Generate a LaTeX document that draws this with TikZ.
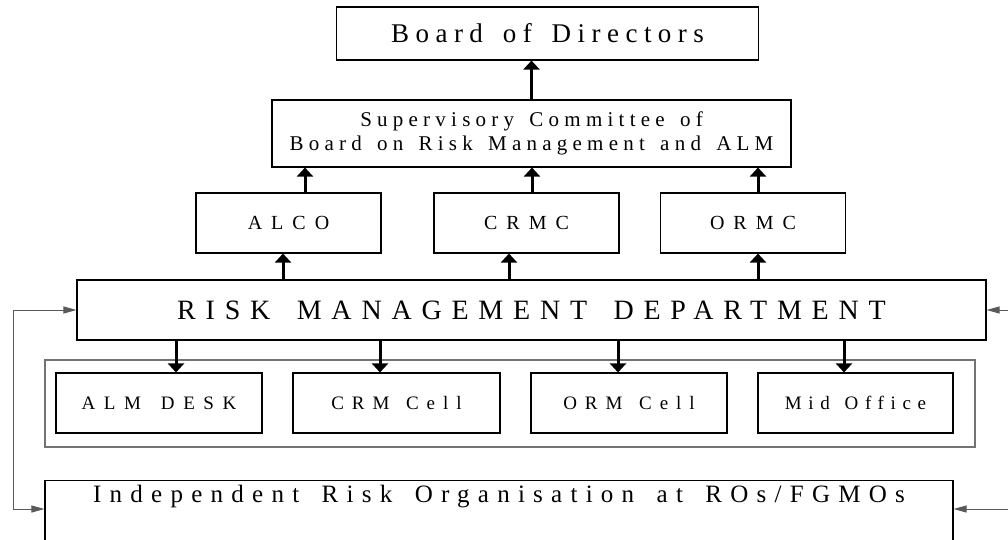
\documentclass[tikz,border=0pt]{standalone}
\usepackage{fontspec}
\setmainfont{Liberation Serif}
\usepackage{tikz}
\usetikzlibrary{positioning,arrows.meta}
\newcommand{\spaced}[4]{\fontsize{#1}{#2}\selectfont\addfontfeature{LetterSpace=#3}\spaceskip=#4\fontdimen2\font\relax}

\begin{document}
\begin{tikzpicture}[x=1pt,y=-1pt]
        %styles
        \tikzstyle{box}=[draw, line width=1.1pt, inner sep=0pt, align=center]
        \tikzstyle{container}=[draw=black!55, line width=1.3pt, inner sep=0pt]
        \tikzstyle{commu}=[-{Triangle[width=16pt,length=9pt]}, line width=3pt]
        \tikzstyle{feedback}=[-{Triangle[width=7pt,length=13pt]}, draw=black!65, line width=1pt]

        \useasboundingbox (0,0) rectangle (1008,539);

        %nodes
        \node[box, minimum width=422pt, minimum height=53pt, font=\spaced{27}{30}{24}{1.5}] (bod) at (547.5,33.5) {Board of Directors};
        \node[box, minimum width=519pt, minimum height=67pt, font=\spaced{21}{24}{25}{1.45}] (sup) at (531.5,133.5) {Supervisory Committee of\\Board on Risk Management and ALM};

        \node[box, minimum width=185pt, minimum height=60pt, font=\spaced{20}{24}{45}{1}] (alco) at (288.5,223) {ALCO};
        \node[box, minimum width=185pt, minimum height=60pt, font=\spaced{20}{24}{45}{1}] (crmc) at (526.5,223) {CRMC};
        \node[box, minimum width=185pt, minimum height=60pt, font=\spaced{20}{24}{45}{1}] (ormc) at (753,223) {ORMC};

        \node[box, minimum width=909pt, minimum height=60pt, font=\spaced{28}{32}{35}{1.57}] (rmd) at (531.5,310) {RISK MANAGEMENT DEPARTMENT};

        \node[container, minimum width=930pt, minimum height=87pt] (cells) at (510,403.5) {};
        \node[box, minimum width=206pt, minimum height=60pt, font=\spaced{19}{22}{45}{1.5}] (alm) at (159,403) {ALM DESK};
        \node[box, minimum width=207pt, minimum height=60pt, font=\spaced{19}{22}{42}{1.3}] (crm) at (396.5,403) {CRM Cell};
        \node[box, minimum width=196pt, minimum height=60pt, font=\spaced{19}{22}{42}{1.3}] (orm) at (629,403) {ORM Cell};
        \node[box, minimum width=195pt, minimum height=60pt, font=\spaced{19}{22}{35}{1.3}] (mid) at (855.5,403) {Mid Office};

        \node[box, anchor=north, minimum width=908pt, inner ysep=5pt, text depth=55pt, font=\spaced{25}{28}{33}{1.55}] (iro) at (499,480) {Independent Risk Organisation at ROs/FGMOs};

        \coordinate (lfb) at (13,509);
        \coordinate (rfb) at (1030,509);

        %arrows
        \draw[commu] (sup.north) -- (sup.north |- bod.south);

        \draw[commu] ([xshift=16.5pt]alco.north) -- ([xshift=16.5pt]alco.north |- sup.south);
        \draw[commu] ([xshift=5.5pt]crmc.north) -- ([xshift=5.5pt]crmc.north |- sup.south);
        \draw[commu] ([xshift=5pt]ormc.north) -- ([xshift=5pt]ormc.north |- sup.south);

        \draw[commu] ([xshift=-5.5pt]alco.south |- rmd.north) -- ([xshift=-5.5pt]alco.south);
        \draw[commu] ([xshift=-17.5pt]crmc.south |- rmd.north) -- ([xshift=-17.5pt]crmc.south);
        \draw[commu] ([xshift=5pt]ormc.south |- rmd.north) -- ([xshift=5pt]ormc.south);

        \draw[commu] ([xshift=17pt]alm.north |- rmd.south) -- ([xshift=17pt]alm.north);
        \draw[commu] ([xshift=-16.5pt]crm.north |- rmd.south) -- ([xshift=-16.5pt]crm.north);
        \draw[commu] ([xshift=-11pt]orm.north |- rmd.south) -- ([xshift=-11pt]orm.north);
        \draw[commu] ([xshift=-11.5pt]mid.north |- rmd.south) -- ([xshift=-11.5pt]mid.north);

        \draw[feedback] (lfb) |- (rmd.west);
        \draw[feedback] (lfb) -- (lfb -| iro.west);
        \draw[feedback] (rfb) |- (rmd.east);
        \draw[feedback] (rfb) -- (rfb -| iro.east);

\end{tikzpicture}
\end{document}
